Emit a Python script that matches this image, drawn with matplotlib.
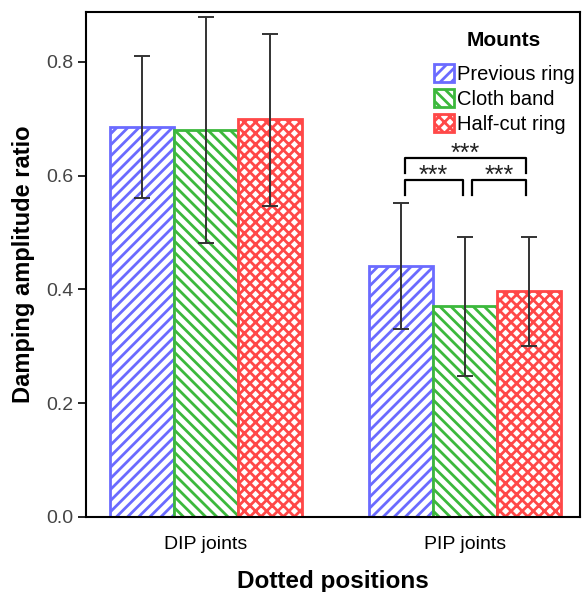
import numpy as np
import matplotlib.pyplot as plt
from matplotlib.patches import Patch

plt.rcParams['font.family'] = ['Liberation Sans', 'DejaVu Sans']
plt.rcParams['hatch.linewidth'] = 2.0

groups = ['DIP joints', 'PIP joints']
mounts = ['Previous ring', 'Cloth band', 'Half-cut ring']
means = {
    'Previous ring': [0.686, 0.441],
    'Cloth band': [0.680, 0.371],
    'Half-cut ring': [0.700, 0.397],
}
err_low = {
    'Previous ring': [0.561, 0.331],
    'Cloth band': [0.481, 0.248],
    'Half-cut ring': [0.547, 0.301],
}
err_high = {
    'Previous ring': [0.811, 0.552],
    'Cloth band': [0.879, 0.492],
    'Half-cut ring': [0.849, 0.492],
}
colors = ['#6b6bff', '#3cb83c', '#ff4848']
hatches = ['///', '\\\\\\', 'xxx']

fig = plt.figure(figsize=(5.85, 5.92), dpi=100)
ax = fig.add_axes([0.147, 0.127, 0.844, 0.853])

x = np.arange(len(groups))
w = 0.247
for i, m in enumerate(mounts):
    pos = x + (i - 1) * w
    ax.bar(pos, means[m], w, facecolor='white', edgecolor=colors[i],
           hatch=hatches[i], linewidth=2)
    lo = np.array(means[m]) - np.array(err_low[m])
    hi = np.array(err_high[m]) - np.array(means[m])
    ax.errorbar(pos, means[m], yerr=[lo, hi], fmt='none', ecolor='#333333',
                elinewidth=1.4, capsize=6, capthick=1.4)

# significance brackets
def bracket(x1, x2, y_top, y_bot, txt):
    ax.plot([x1, x1, x2, x2], [y_bot, y_top, y_top, y_bot], color='black', lw=1.6)
    ax.text((x1 + x2) / 2, y_top - 0.014, txt, ha='center', va='bottom',
            fontsize=18, color='#222222')

bracket(0.768, 1.236, 0.631, 0.605, '***')
bracket(0.768, 0.992, 0.593, 0.566, '***')
bracket(1.027, 1.236, 0.593, 0.566, '***')

ax.set_xlim(-0.463, 1.444)
ax.set_ylim(0, 0.888)
ax.set_xticks(x)
ax.set_xticklabels(groups, fontsize=14)
ax.set_yticks([0.0, 0.2, 0.4, 0.6, 0.8])
ax.set_yticklabels(['0.0', '0.2', '0.4', '0.6', '0.8'], fontsize=14, color='#444444')
ax.tick_params(axis='x', length=0, pad=14)
ax.tick_params(axis='y', length=6, width=1.2, pad=3)
for s in ax.spines.values():
    s.set_linewidth(1.5)

ax.set_xlabel('Dotted positions', fontsize=17.5, fontweight='bold', labelpad=12)
ax.set_ylabel('Damping amplitude ratio', fontsize=17, fontweight='bold', labelpad=8)

handles = [Patch(facecolor='white', edgecolor=colors[i], hatch=hatches[i], linewidth=2)
           for i in range(3)]
leg = ax.legend(handles, mounts, title='Mounts', loc='upper right', frameon=False,
                fontsize=14.5, handlelength=1.0, handleheight=1.0, handletextpad=0.15,
                labelspacing=0.25, borderaxespad=0, borderpad=0.3,
                bbox_to_anchor=(1.002, 0.974))
leg.get_title().set_fontweight('bold')
leg.get_title().set_fontsize(15)
leg._legend_box.sep = 10

plt.savefig('out.png', dpi=100)
